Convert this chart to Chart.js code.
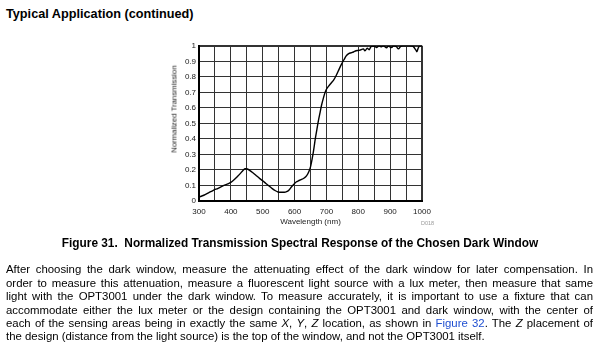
<!DOCTYPE html>
<html>
<head>
<meta charset="utf-8">
<script src="https://cdn.jsdelivr.net/npm/chart.js@4"></script>
<style>
  html, body { margin: 0; padding: 0; background: #fff; }
  body { width: 600px; height: 345px; position: relative; overflow: hidden; font-family: "Liberation Sans", Arial, sans-serif; color: #000; }
  #heading { position: absolute; left: 6px; top: 6.5px; font-size: 12.7px; font-weight: bold; line-height: 15px; white-space: nowrap; }
  #chartBox { position: absolute; left: 150px; top: 38px; width: 290px; height: 195px; }
  #ytitle { position: absolute; left: 174px; top: 109px; transform: translate(-50%, -50%) rotate(-90deg); font-size: 7.8px; white-space: nowrap; color: #222; }
  #code { position: absolute; left: 421px; top: 220px; font-size: 5.5px; color: #999; }
  #caption { position: absolute; left: 0; width: 600px; top: 235px; text-align: center; font-size: 11.85px; font-weight: bold; line-height: 16px; white-space: nowrap; }
  #para { position: absolute; left: 6px; width: 587px; top: 263.3px; font-size: 11.4px; line-height: 13.4px; }
  #para .ln { white-space: nowrap; text-align: justify; text-align-last: justify; }
  #para .ln.last { text-align-last: left; }
  #para a { color: #1f4fd1; text-decoration: none; }
</style>
</head>
<body>
<div id="heading">Typical Application (continued)</div>
<div id="chartBox"><canvas id="c" width="290" height="195"></canvas></div>
<div id="ytitle">Normalized Transmission</div>
<div id="code">D018</div>
<div id="caption">Figure 31.&nbsp; Normalized Transmission Spectral Response of the Chosen Dark Window</div>
<div id="para">
  <div class="ln">After choosing the dark window, measure the attenuating effect of the dark window for later compensation. In</div>
  <div class="ln">order to measure this attenuation, measure a fluorescent light source with a lux meter, then measure that same</div>
  <div class="ln">light with the OPT3001 under the dark window. To measure accurately, it is important to use a fixture that can</div>
  <div class="ln">accommodate either the lux meter or the design containing the OPT3001 and dark window, with the center of</div>
  <div class="ln">each of the sensing areas being in exactly the same <i>X</i>, <i>Y</i>, <i>Z</i> location, as shown in <a>Figure 32</a>. The <i>Z</i> placement of</div>
  <div class="ln last">the design (distance from the light source) is the top of the window, and not the OPT3001 itself.</div>
</div>
<script>
// Wavelength (nm)
const wavelengths = [
  300, 315, 330, 345, 360, 375, 390, 400, 410, 420, 430, 438, 445, 452, 460, 470, 480, 490, 500,
  510, 520, 530, 540, 548, 558, 568, 575, 582, 590, 598, 605, 612, 620, 630, 638, 645, 650, 655,
  660, 665, 670, 675, 680, 685, 690, 695, 700, 707, 715, 723, 731, 740, 747, 755, 762, 770, 778,
  785, 793, 800, 805, 816, 821, 828, 834, 840, 852, 857, 865, 873, 878, 889, 894, 905, 910, 920,
  926, 933, 941, 952, 962, 972, 980, 984, 988, 993, 1000
];
// Normalized transmission
const transmission = [
  0.025, 0.037, 0.053, 0.069, 0.082, 0.097, 0.110, 0.120, 0.137, 0.157, 0.178, 0.197, 0.208, 0.206, 0.196, 0.180, 0.163, 0.146, 0.130,
  0.113, 0.097, 0.080, 0.066, 0.058, 0.056, 0.056, 0.060, 0.070, 0.090, 0.108, 0.122, 0.130, 0.137, 0.148, 0.163, 0.190, 0.220, 0.270,
  0.330, 0.400, 0.460, 0.520, 0.570, 0.620, 0.660, 0.695, 0.720, 0.740, 0.760, 0.780, 0.810, 0.850, 0.880, 0.910, 0.935, 0.950, 0.955,
  0.960, 0.968, 0.970, 0.972, 0.980, 0.967, 0.985, 0.975, 0.994, 0.998, 0.988, 1.000, 0.994, 1.000, 0.987, 0.998, 0.989, 1.000, 0.994,
  0.980, 0.996, 1.000, 1.000, 1.000, 0.996, 0.975, 0.962, 0.985, 1.000, 0.998
];
const xTickLabels = ['300', '400', '500', '600', '700', '800', '900', '1000'];
const yTickLabels = ['0', '0.1', '0.2', '0.3', '0.4', '0.5', '0.6', '0.7', '0.8', '0.9', '1'];

const points = wavelengths.map((w, i) => ({ x: w, y: transmission[i] }));

new Chart(document.getElementById('c'), {
  type: 'line',
  data: {
    datasets: [{
      data: points,
      borderColor: '#000',
      borderWidth: 1.4,
      pointRadius: 0,
      tension: 0,
      cubicInterpolationMode: 'monotone',
      fill: false
    }]
  },
  options: {
    responsive: false,
    devicePixelRatio: 1,
    animation: false,
    layout: { padding: { top: 7, right: 18, left: 0, bottom: 0 } },
    plugins: { legend: { display: false }, tooltip: { enabled: false } },
    scales: {
      x: {
        type: 'linear',
        min: 300,
        max: 1000,
        afterFit: s => { s.height = 32; },
        ticks: {
          stepSize: 50,
          autoSkip: false,
          maxRotation: 0,
          padding: 6,
          color: '#1a1a1a',
          font: { family: 'Liberation Sans, Arial, sans-serif', size: 8 },
          callback: v => xTickLabels.includes(String(v)) ? String(v) : ''
        },
        grid: {
          drawTicks: false,
          color: '#333',
          lineWidth: ctx => (ctx.tick && ctx.tick.value === 1000) ? 2 : 1
        },
        border: { display: true, color: '#000', width: 2 },
        title: {
          display: true,
          text: 'Wavelength (nm)',
          color: '#222',
          font: { family: 'Liberation Sans, Arial, sans-serif', size: 8 },
          padding: { top: 0, bottom: 6.2 }
        }
      },
      y: {
        min: 0,
        max: 1,
        afterFit: s => { s.width = 49; },
        ticks: {
          stepSize: 0.1,
          padding: 3,
          color: '#1a1a1a',
          font: { family: 'Liberation Sans, Arial, sans-serif', size: 8 },
          callback: (v, i) => yTickLabels[i]
        },
        grid: {
          drawTicks: false,
          color: '#333',
          lineWidth: ctx => (ctx.tick && Math.abs(ctx.tick.value - 1) < 1e-9) ? 2 : 1
        },
        border: { display: true, color: '#000', width: 2 }
      }
    }
  }
});
</script>
</body>
</html>
